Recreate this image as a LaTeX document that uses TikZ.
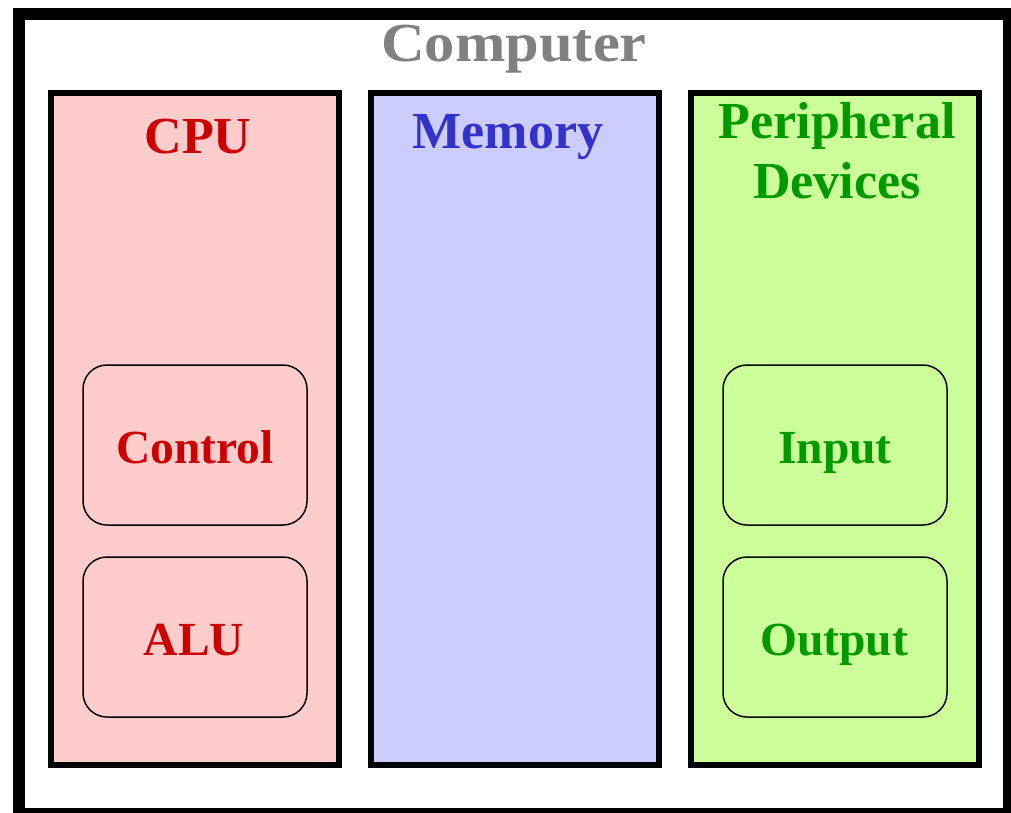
\documentclass[tikz,border=0pt]{standalone}
\usepackage{fontspec}
\setmainfont{Liberation Serif}
\definecolor{cpufill}{HTML}{FFCCCC}
\definecolor{cputext}{HTML}{CC0000}
\definecolor{memfill}{HTML}{CCCCFF}
\definecolor{memtext}{HTML}{3333CC}
\definecolor{perfill}{HTML}{CCFF99}
\definecolor{pertext}{HTML}{009900}
\definecolor{comptext}{HTML}{808080}
\tikzset{
  panel/.style={draw=black, line width=6pt, minimum width=288pt, minimum height=672pt, inner sep=0pt},
  unit/.style={draw=black, line width=1.5pt, rounded corners=24pt, minimum width=224pt, minimum height=160pt, inner sep=0pt},
  title/.style={anchor=base, font=\fontsize{52}{60}\selectfont\bfseries, inner sep=0pt},
  label/.style={anchor=base, font=\fontsize{47.5}{56}\selectfont\bfseries, inner sep=0pt},
}
\begin{document}
\begin{tikzpicture}[x=1pt, y=-1pt]
  \useasboundingbox (0,0) rectangle (1011,812);
  \fill[white] (0,0) rectangle (1011,812);
  % computer frame
  \node[draw=black, line width=12pt, minimum width=990pt, minimum height=800pt, inner sep=0pt] (computer) at (514,414) {};
  \node[title, text=comptext, font=\fontsize{55}{60}\selectfont\bfseries] (computerlbl) at (514,61) {\scalebox{1.1}[1]{Computer}};
  % the three blocks
  \node[panel, fill=cpufill] (cpu) at (195,429) {};
  \node[panel, fill=memfill] (mem) at (515,429) {};
  \node[panel, fill=perfill] (per) at (835,429) {};
  \node[title, text=cputext] (cpulbl) at (198,153) {CPU};
  \node[title, text=memtext] (memlbl) at (508,148) {Memory};
  \node[title, text=pertext] (perlbl1) at (837,138) {Peripheral};
  \node[title, text=pertext] (perlbl2) at (837,198) {Devices};
  % units inside CPU
  \node[unit] (control) at (195,445) {};
  \node[unit] (alu) at (195,637) {};
  \node[label, text=cputext] at (195,463) {Control};
  \node[label, text=cputext] at (194,655) {ALU};
  % peripheral units
  \node[unit] (input) at (835,445) {};
  \node[unit] (output) at (835,637) {};
  \node[label, text=pertext] at (835,463) {Input};
  \node[label, text=pertext] at (834,655) {Output};
\end{tikzpicture}
\end{document}
